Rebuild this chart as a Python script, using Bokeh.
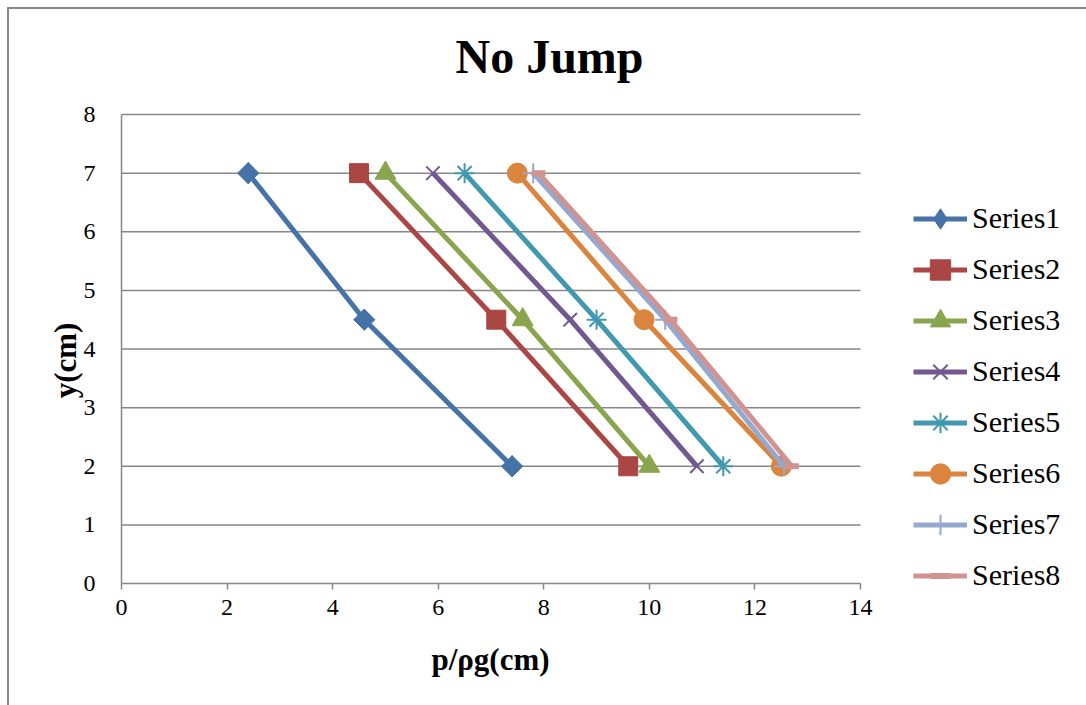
import math
from bokeh.plotting import figure
from bokeh.models import Legend, LegendItem, Label, Range1d, FixedTicker
from bokeh.embed import file_html
from bokeh.resources import INLINE

y_vals = [7, 4.5, 2]
series_names = ["Series1", "Series2", "Series3", "Series4", "Series5", "Series6", "Series7", "Series8"]
s1 = [2.4, 4.6, 7.4]
s2 = [4.5, 7.1, 9.6]
s3 = [5.0, 7.6, 10.0]
s4 = [5.9, 8.5, 10.9]
s5 = [6.5, 9.0, 11.4]
s6 = [7.5, 9.9, 12.5]
s7 = [7.8, 10.3, 12.55]
s8 = [7.9, 10.4, 12.7]
x_series = [s1, s2, s3, s4, s5, s6, s7, s8]
x_ticks = [0, 2, 4, 6, 8, 10, 12, 14]
y_ticks = [0, 1, 2, 3, 4, 5, 6, 7, 8]

colors = ["#4572A7", "#AA4643", "#89A54E", "#71588F", "#4198AF", "#DB843D", "#93A9CF", "#D19392"]
markers = ["diamond", "square", "triangle", "x", "asterisk", "circle", "cross", "dash"]
msizes = [21, 19, 21, 19, 20, 20, 20, 14]

FONT = "Liberation Serif"
LEGEND_FONT = "serif"
GRID = "#878787"

# layout (pixels on the canvas; canvas origin sits at page (9, 9))
W, H = 1079, 698
ORG = 9
PX_X0, PX_X1 = 121, 860      # page x of data x = 0 and x = 14
PX_Y0, PX_Y1 = 583, 114      # page y of data y = 0 and y = 8
kx = (PX_X1 - PX_X0) / (x_ticks[-1] - x_ticks[0])
ky = (PX_Y0 - PX_Y1) / (y_ticks[-1] - y_ticks[0])
x_start = x_ticks[0] - (PX_X0 - ORG) / kx
x_end = x_ticks[0] + (ORG + W - PX_X0) / kx
y_start = y_ticks[0] - (ORG + H - PX_Y0) / ky
y_end = y_ticks[-1] + (PX_Y1 - ORG) / ky

p = figure(width=W, height=H, output_backend="svg", toolbar_location=None,
           x_range=Range1d(x_start, x_end), y_range=Range1d(y_start, y_end),
           min_border=0, min_border_left=0, min_border_right=0,
           min_border_top=0, min_border_bottom=0)
p.styles = {"margin-left": "7px", "margin-top": "7px",
            "border-left": "2px solid #878787", "border-top": "2px solid #878787"}
p.title.visible = False
p.outline_line_color = None
p.background_fill_color = "white"
p.border_fill_color = "white"
p.xgrid.grid_line_color = None
p.ygrid.grid_line_color = None

p.xaxis.fixed_location = 0
p.yaxis.fixed_location = 0
p.xaxis.ticker = FixedTicker(ticks=x_ticks)
p.yaxis.ticker = FixedTicker(ticks=y_ticks)
for ax in (p.xaxis, p.yaxis):
    ax.axis_line_color = None
    ax.minor_tick_line_color = None
    ax.major_label_text_font = FONT
    ax.major_label_text_font_size = "24px"
    ax.major_label_text_color = "black"
p.xaxis.major_tick_line_color = GRID
p.xaxis.major_tick_line_width = 1.5
p.xaxis.major_tick_out = 6
p.xaxis.major_tick_in = 0
p.xaxis.major_label_standoff = 10
p.yaxis.major_tick_line_color = None
p.yaxis.major_label_standoff = 20

# gridlines and axis lines, limited to the data extent of the ticks
p.segment(x0=x_ticks[0], x1=x_ticks[-1], y0=y_ticks, y1=y_ticks, line_color=GRID, line_width=1.5)
p.segment(x0=x_ticks[0], x1=x_ticks[0], y0=y_ticks[0], y1=y_ticks[-1], line_color=GRID, line_width=1.5)

items = []
for name, xs, c, m, ms in zip(series_names, x_series, colors, markers, msizes):
    r_line = p.line(xs, y_vals, line_color=c, line_width=5)
    if m in ("x", "asterisk", "cross"):
        r_mark = p.scatter(xs, y_vals, marker=m, size=ms, line_color=c, line_width=2)
    elif m == "dash":
        r_mark = p.scatter(xs, y_vals, marker=m, size=ms, line_color=c, line_width=6)
    elif m == "diamond":
        r_mark = p.scatter(xs, y_vals, marker="diamond", size=ms, fill_color=c, line_color=c)
        p.scatter(xs, y_vals, marker="square", size=15, angle=math.pi / 4, fill_color=c, line_color=c)
    else:
        r_mark = p.scatter(xs, y_vals, marker=m, size=ms, fill_color=c, line_color=c)
    items.append(LegendItem(label=name, renderers=[r_line, r_mark]))

legend = Legend(items=items, location=(913 - ORG, ORG + H - 600.5), orientation="vertical",
                label_text_font_size="30px", label_text_color="black",
                glyph_width=54, glyph_height=51, label_height=51, spacing=0,
                label_standoff=5, padding=0, margin=0,
                border_line_color=None, background_fill_alpha=0)
legend.label_text_font = LEGEND_FONT
p.add_layout(legend, "center")

title = Label(x=549 - ORG, y=ORG + H - 56, x_units="screen", y_units="screen", text="No Jump",
              text_font=FONT, text_font_size="48px", text_font_style="bold",
              text_align="center", text_baseline="middle", text_color="black")
xlab = Label(x=490 - ORG, y=ORG + H - 659, x_units="screen", y_units="screen", text="p/ρg(cm)",
             text_font=FONT, text_font_size="31px", text_font_style="bold",
             text_align="center", text_baseline="middle", text_color="black")
ylab = Label(x=65 - ORG, y=ORG + H - 360, x_units="screen", y_units="screen", text="y(cm)",
             angle=math.pi / 2,
             text_font=FONT, text_font_size="31px", text_font_style="bold",
             text_align="center", text_baseline="middle", text_color="black")
for lab in (title, xlab, ylab):
    p.add_layout(lab)

open("out.html", "w").write(file_html(p, INLINE))
